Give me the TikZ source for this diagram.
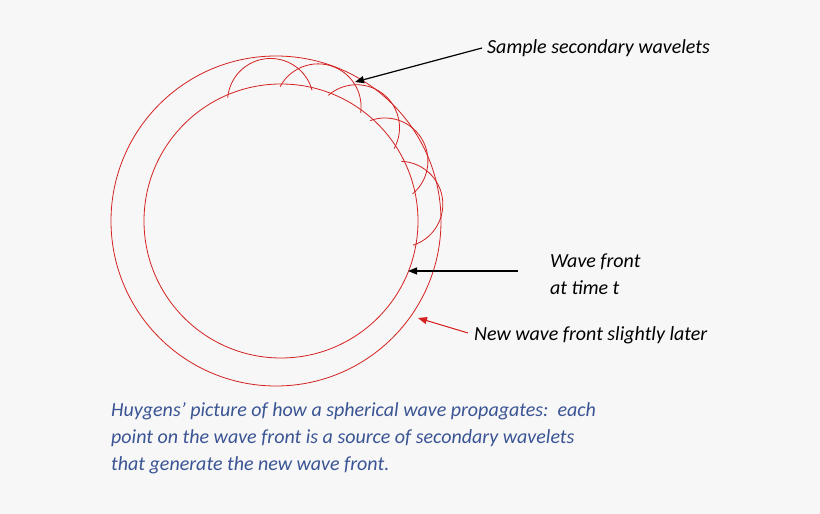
\documentclass[tikz,border=0pt]{standalone}
\usepackage{fontspec}
\setmainfont{Carlito}
\usetikzlibrary{calc,arrows.meta}
\definecolor{bg}{HTML}{F7F7F7}
\definecolor{wred}{HTML}{D42020}
\definecolor{capblue}{HTML}{3A5494}
\begin{document}
\begin{tikzpicture}[x=1pt,y=1pt,
  wave/.style={draw=wred,line width=0.8pt},
  lbl/.style={font=\itshape\fontsize{20}{27}\selectfont,anchor=west,align=left,inner sep=0pt},
  arr/.style={-{Triangle[length=9pt,width=7pt]},line width=1.2pt}]
\fill[bg] (0,0) rectangle (820,514);
\useasboundingbox (0,0) rectangle (820,514);
\coordinate (ci) at (281,293);
\coordinate (co) at (276,293);
\draw[wave] (co) circle[radius=165];
\draw[wave] (ci) circle[radius=137];
\foreach \t in {95,72,51,30,8}{
  \pgfmathsetmacro{\sa}{\t+80}
  \pgfmathsetmacro{\ea}{\t-80}
  \draw[wave] ($(ci)+(\t:120)+(\sa:43)$) arc(\sa:\ea:43);
}
\node[lbl] (s) at (487,466) {Sample secondary wavelets};
\node[lbl] (w) at (550,240) {Wave front\\at time \textit{t}};
\node[lbl] (n) at (474,179) {New wave front slightly later};
\coordinate (sa) at (355,432);
\coordinate (wa) at (408,243);
\coordinate (na) at (418,196);
\draw[arr] (482,466) -- (sa);
\draw[arr] (518,243) -- (wa);
\draw[arr,draw=wred,fill=wred,line width=1pt] (468,181) -- (na);
\node[lbl,text=capblue,anchor=north west] (c) at (111,112) {Huygens’ picture of how a spherical wave propagates:\ \ each\\point on the wave front is a source of secondary wavelets\\that generate the new wave front.};
\end{tikzpicture}
\end{document}
